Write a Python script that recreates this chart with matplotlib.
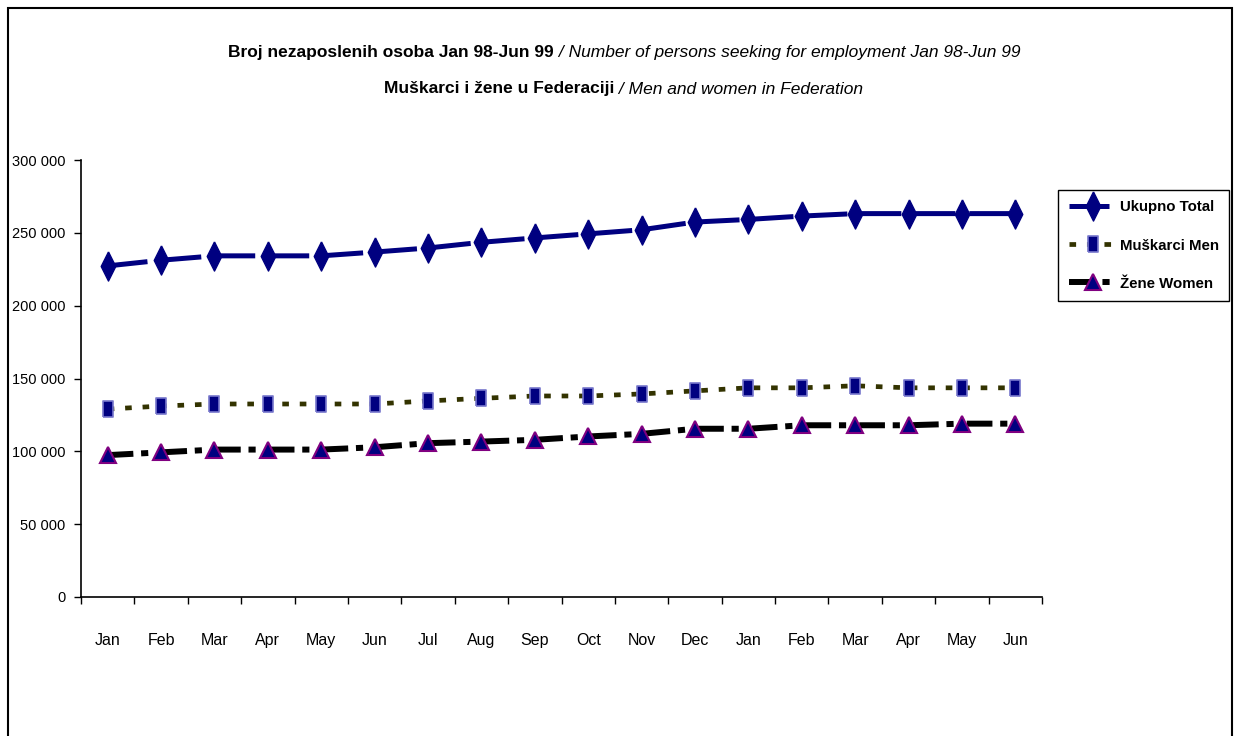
import numpy as np
import matplotlib
matplotlib.use("Agg")
import matplotlib.pyplot as plt
from matplotlib.ticker import FuncFormatter, FixedLocator
from matplotlib.patches import Rectangle

plt.rcParams['font.family'] = ['Liberation Sans', 'DejaVu Sans']

months = ["Jan", "Feb", "Mar", "Apr", "May", "Jun", "Jul", "Aug", "Sep", "Oct", "Nov", "Dec",
          "Jan", "Feb", "Mar", "Apr", "May", "Jun"]
total = [227300, 231200, 234200, 234200, 234200, 236800, 239600, 243500, 246500,
         249300, 252100, 257400, 259200, 261500, 263200, 263200, 263200, 263200]
men = [129000, 131100, 132500, 132500, 132500, 132500, 134600, 136400, 138000,
       138000, 139400, 141500, 143600, 143600, 145000, 143600, 143600, 143600]
women = [97400, 99300, 101200, 101200, 101200, 102800, 105600, 106700, 107900,
         110200, 112000, 115500, 115500, 117900, 117900, 117900, 119000, 119000]
labels = ["Ukupno Total", "Muškarci Men", "Žene Women"]

W, H = 1239, 736
fig = plt.figure(figsize=(W / 100, H / 100), dpi=100)
ax = fig.add_axes([81 / W, 1 - 597 / H, (1042 - 81) / W, (597 - 160) / H])

x = np.arange(len(months))
tall_diamond = [(0, 1), (0.5, 0), (0, -1), (-0.5, 0), (0, 1)]
tall_box = [(-0.6, -1), (0.6, -1), (0.6, 1), (-0.6, 1), (-0.6, -1)]

ax.plot(x, total, color='#000080', lw=3.6, ls=(0, (8, 2.8)), dash_capstyle='butt',
        marker=tall_diamond, ms=21, mfc='#000080', mec='#000080', label=labels[0])
ax.plot(x, men, color='#333300', lw=3.4, ls=(0, (1.4, 2.3)), dash_capstyle='butt',
        marker=tall_box, ms=12, mfc='#000080', mec='#7777cc', mew=1.2, label=labels[1])
ax.plot(x, women, color='black', lw=4.3, ls=(0, (4.3, 1.3, 1.2, 2.2)), dash_capstyle='butt',
        marker='^', ms=12, mfc='#000080', mec='#800080', mew=1.5, label=labels[2])

ax.set_xlim(-0.5, len(months) - 0.5)
ax.set_ylim(0, 300000)
ax.yaxis.set_major_locator(FixedLocator(np.arange(0, 300001, 50000)))
ax.yaxis.set_major_formatter(FuncFormatter(lambda v, p: f"{int(v):,}".replace(",", " ")))
ax.xaxis.set_major_locator(FixedLocator(np.arange(-0.5, len(months), 1.0)))
ax.xaxis.set_major_formatter(FuncFormatter(lambda v, p: ""))
ax.xaxis.set_minor_locator(FixedLocator(x))
ax.set_xticklabels(months, minor=True)
ax.tick_params(axis='x', which='major', direction='out', length=5, width=1)
ax.tick_params(axis='x', which='minor', length=0, pad=26, labelsize=11.5)
ax.tick_params(axis='y', direction='out', length=5, width=1, pad=6, labelsize=10.5)
for s in ['top', 'right']:
    ax.spines[s].set_visible(False)
for s in ['left', 'bottom']:
    ax.spines[s].set_linewidth(1.2)

leg = fig.legend(loc='upper left', bbox_to_anchor=(1058 / W, 1 - 190 / H),
                 frameon=True, fancybox=False, edgecolor='black', framealpha=1,
                 handlelength=3.2, handletextpad=0.2, borderpad=0.7, borderaxespad=0,
                 labelspacing=1.6, prop={'weight': 'bold', 'size': 10.8})
leg.get_frame().set_linewidth(1.0)

# title, bold Bosnian part + italic English part
fig.text(554 / W, 1 - 52 / H, "Broj nezaposlenih osoba Jan 98-Jun 99", ha='right', va='center',
         fontsize=12.5, fontweight='bold')
fig.text(554 / W, 1 - 52 / H, " / Number of persons seeking for employment Jan 98-Jun 99",
         ha='left', va='center', fontsize=12.5, style='italic')
fig.text(614 / W, 1 - 89 / H, "Muškarci i žene u Federaciji", ha='right', va='center',
         fontsize=12.5, fontweight='bold')
fig.text(614 / W, 1 - 89 / H, " / Men and women in Federation", ha='left', va='center',
         fontsize=12.5, style='italic')

fig.patches.append(Rectangle((8 / W, -0.01), (1232 - 8) / W, 1 - 8 / H + 0.01,
                             transform=fig.transFigure, fill=False, edgecolor='black', lw=1.5))

fig.savefig("out.png", dpi=100)
